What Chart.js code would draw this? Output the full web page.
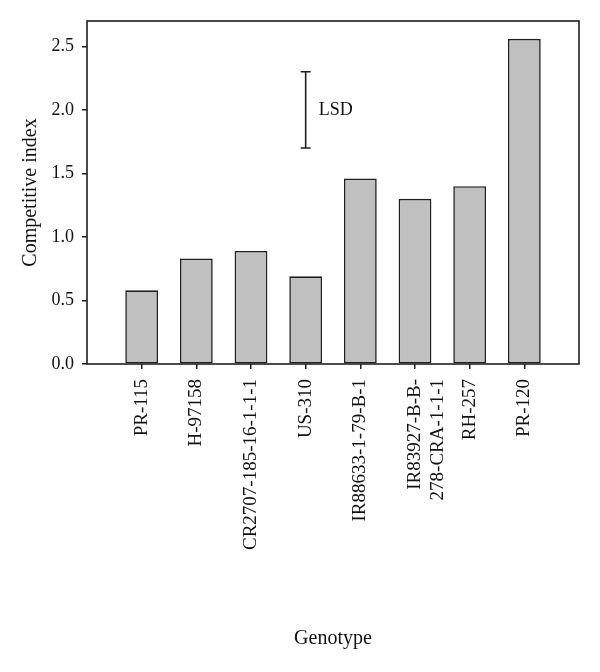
<!DOCTYPE html>
<html>
<head>
<meta charset="utf-8">
<script src="https://cdn.jsdelivr.net/npm/chart.js@4"></script>
<style>
html,body{margin:0;padding:0;background:#fff;}
#wrap{width:600px;height:672px;}
</style>
</head>
<body>
<div id="wrap"><canvas id="c" width="600" height="672"></canvas></div>
<script>
const genotypes = ['PR-115', 'H-97158', 'CR2707-185-16-1-1-1', 'US-310', 'IR88633-1-79-B-1', ['IR83927-B-B-', '278-CRA-1-1-1'], 'RH-257', 'PR-120'];
const competitiveIndex = [0.58, 0.83, 0.89, 0.69, 1.46, 1.30, 1.40, 2.56];
const yTicks = [0, 0.5, 1.0, 1.5, 2.0, 2.5];
const lsdCategory = 3;      // index into genotypes (US-310)
const lsdRange = [1.7, 2.3];
const lsdText = 'LSD';

// pad with empty slots at both ends so categories sit one step in from the frame
const labels = [''].concat(genotypes, ['']);
const values = [null].concat(competitiveIndex, [null]);

const FONT = '"Liberation Serif", "Times New Roman", serif';
const INK = '#1e1e1e';

const framePlugin = {
  id: 'frame',
  afterDatasetsDraw(chart) {
    const {ctx, chartArea: a, scales} = chart;
    ctx.save();
    ctx.strokeStyle = INK;
    ctx.lineWidth = 1.6;
    ctx.strokeRect(a.left, a.top, a.right - a.left, a.bottom - a.top);
    // LSD bar
    const x = scales.x.getPixelForValue(lsdCategory + 1);
    const y1 = scales.y.getPixelForValue(lsdRange[0]);
    const y2 = scales.y.getPixelForValue(lsdRange[1]);
    ctx.beginPath();
    ctx.moveTo(x, y1); ctx.lineTo(x, y2);
    ctx.moveTo(x - 5, y1); ctx.lineTo(x + 5, y1);
    ctx.moveTo(x - 5, y2); ctx.lineTo(x + 5, y2);
    ctx.stroke();
    ctx.fillStyle = '#111';
    ctx.font = '18px ' + FONT;
    ctx.textAlign = 'left';
    ctx.textBaseline = 'middle';
    const ym = scales.y.getPixelForValue((lsdRange[0] + lsdRange[1]) / 2);
    ctx.fillText(lsdText, x + 13, ym);
    ctx.restore();
  }
};

new Chart(document.getElementById('c'), {
  type: 'bar',
  data: {
    labels: labels,
    datasets: [{
      data: values,
      backgroundColor: '#c0c0c0',
      borderColor: INK,
      borderWidth: 1.6,
      borderSkipped: false,
      categoryPercentage: 1.0,
      barPercentage: 0.6
    }]
  },
  options: {
    responsive: false,
    animation: false,
    devicePixelRatio: 1,
    layout: {padding: {top: 21, right: 21, bottom: 21, left: 0}},
    plugins: {legend: {display: false}, tooltip: {enabled: false}},
    scales: {
      x: {
        type: 'category',
        offset: false,
        grid: {
          display: true,
          offset: false,
          drawOnChartArea: false,
          drawTicks: true,
          tickLength: 5,
          lineWidth: 1.5,
          tickColor: (c) => (c.index === 0 || c.index === labels.length - 1) ? 'rgba(0,0,0,0)' : INK
        },
        border: {display: false},
        ticks: {
          autoSkip: false,
          minRotation: 90,
          maxRotation: 90,
          padding: 10,
          color: '#111',
          font: {family: FONT, size: 19, lineHeight: 1.2}
        },
        title: {
          display: true,
          text: 'Genotype',
          color: '#111',
          padding: {top: 0, bottom: 0},
          font: {family: FONT, size: 20, lineHeight: 1.2}
        },
        afterFit(scale) { scale.height = 287; scale.paddingLeft = 0; scale.paddingRight = 0; }
      },
      y: {
        min: 0,
        max: 2.7,
        grid: {
          display: true,
          drawOnChartArea: false,
          drawTicks: true,
          tickLength: 5,
          lineWidth: 1.5,
          tickColor: INK
        },
        border: {display: false},
        afterBuildTicks(scale) { scale.ticks = yTicks.map(v => ({value: v})); },
        ticks: {
          padding: 8,
          color: '#111',
          font: {family: FONT, size: 18},
          callback: (v) => Number(v).toFixed(1)
        },
        title: {
          display: true,
          text: 'Competitive index',
          color: '#111',
          padding: {top: 19, bottom: 0},
          font: {family: FONT, size: 20, lineHeight: 1.2}
        },
        afterFit(scale) { scale.width = 87; }
      }
    }
  },
  plugins: [framePlugin]
});
</script>
</body>
</html>
